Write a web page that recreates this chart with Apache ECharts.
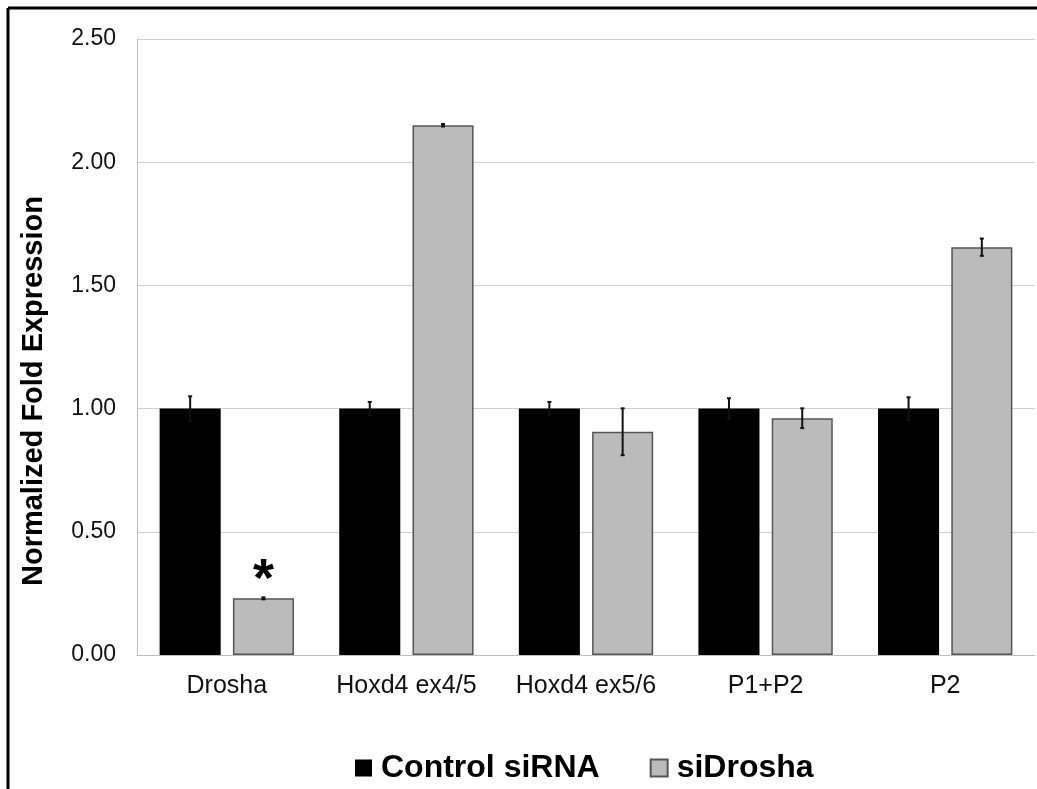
<!DOCTYPE html>
<html>
<head>
<meta charset="utf-8">
<style>
html,body{margin:0;padding:0;background:#fff;}
#chart{width:1037px;height:789px;}
</style>
<script src="https://cdn.jsdelivr.net/npm/echarts@6/dist/echarts.min.js"></script>
</head>
<body>
<div id="chart"></div>
<script>
var categories = ['Drosha', 'Hoxd4 ex4/5', 'Hoxd4 ex5/6', 'P1+P2', 'P2'];
var seriesNames = ['Control siRNA', 'siDrosha'];
var controlValues = [1.00, 1.00, 1.00, 1.00, 1.00];
var controlErrors = [0.05, 0.027, 0.027, 0.042, 0.046];
var siDroshaValues = [0.23, 2.15, 0.906, 0.961, 1.655];
var siDroshaErrors = [0.004, 0.005, 0.095, 0.04, 0.035];
var significance = ['*', '', '', '', ''];
var yTicks = [0, 0.5, 1.0, 1.5, 2.0, 2.5];

var BAR_W = 0.34, BAR_GAP = 0.2;

function errData(vals, errs) {
  return vals.map(function (v, i) { return [i, v, errs[i]]; });
}
function makeErrRender(sign) {
  return function (params, api) {
    var idx = api.value(0), v = api.value(1), e = api.value(2);
    var band = api.size([1, 0])[0];
    var bw = band * BAR_W;
    var off = sign * (bw + bw * BAR_GAP) / 2;
    var hi = api.coord([idx, v + e]);
    var lo = api.coord([idx, v - e]);
    var x = hi[0] + off;
    var cap = 2;
    var st = { stroke: '#111', lineWidth: 2 };
    return {
      type: 'group',
      children: [
        { type: 'line', shape: { x1: x, y1: hi[1], x2: x, y2: lo[1] }, style: st },
        { type: 'line', shape: { x1: x - cap, y1: hi[1], x2: x + cap, y2: hi[1] }, style: st },
        { type: 'line', shape: { x1: x - cap, y1: lo[1], x2: x + cap, y2: lo[1] }, style: st }
      ]
    };
  };
}

var greyData = siDroshaValues.map(function (v, i) {
  if (!significance[i]) return v;
  return {
    value: v,
    label: {
      show: true, position: 'top', distance: 2,
      formatter: significance[i],
      fontSize: 54, fontWeight: 'bold', color: '#000',
      fontFamily: 'Liberation Sans', lineHeight: 54, padding: [0, 0, -12, 0]
    }
  };
});

var chart = echarts.init(document.getElementById('chart'), null, { renderer: 'canvas' });
chart.setOption({
  animation: false,
  backgroundColor: '#fff',
  textStyle: { fontFamily: 'Liberation Sans, Arial, sans-serif' },
  grid: { left: 137, right: 2, top: 39, bottom: 134, containLabel: false },
  graphic: [
    { type: 'line', shape: { x1: 8, y1: 8, x2: 8, y2: 789 }, style: { stroke: '#000', lineWidth: 3 } },
    { type: 'line', shape: { x1: 8, y1: 8, x2: 1037, y2: 8 }, style: { stroke: '#000', lineWidth: 3 } },
    {
      type: 'text', x: 34, y: 391, rotation: Math.PI / 2,
      style: {
        text: 'Normalized Fold Expression', fill: '#000',
        font: 'bold 29px "Liberation Sans", Arial, sans-serif',
        align: 'center', verticalAlign: 'middle'
      }
    }
  ],
  legend: {
    bottom: 0, left: 350,
    itemWidth: 17, itemHeight: 17, itemGap: 50,
    icon: 'rect',
    data: seriesNames,
    textStyle: { fontSize: 32, fontWeight: 'bold', color: '#000', fontFamily: 'Liberation Sans', padding: [0, 0, 0, 4] }
  },
  xAxis: {
    type: 'category',
    data: categories,
    axisLine: { show: true, lineStyle: { color: '#BFBFBF', width: 1 } },
    axisTick: { show: false },
    axisLabel: { interval: 0, fontSize: 25, color: '#111', margin: 19, fontFamily: 'Liberation Sans' }
  },
  yAxis: {
    type: 'value',
    min: yTicks[0], max: yTicks[yTicks.length - 1], interval: 0.5,
    axisLine: { show: true, lineStyle: { color: '#BFBFBF', width: 1 } },
    axisTick: { show: false },
    splitLine: { lineStyle: { color: '#D0D0D0', width: 1 } },
    axisLabel: {
      fontSize: 23, color: '#111', margin: 21, fontFamily: 'Liberation Sans',
      formatter: function (v) { return v.toFixed(2); }
    }
  },
  series: [
    {
      name: seriesNames[0], type: 'bar', data: controlValues,
      barWidth: (BAR_W * 100) + '%', barGap: (BAR_GAP * 100) + '%',
      itemStyle: { color: '#000000', borderColor: '#000', borderWidth: 0 }
    },
    {
      name: seriesNames[1], type: 'bar', data: greyData,
      barWidth: (BAR_W * 100) + '%', barGap: (BAR_GAP * 100) + '%',
      itemStyle: { color: '#BBBBBB', borderColor: '#555555', borderWidth: 1.5 }
    },
    {
      type: 'custom', name: 'errCtrl', renderItem: makeErrRender(-1),
      data: errData(controlValues, controlErrors), z: 10,
      encode: { x: 0, y: 1 }, silent: true
    },
    {
      type: 'custom', name: 'errSi', renderItem: makeErrRender(1),
      data: errData(siDroshaValues, siDroshaErrors), z: 10,
      encode: { x: 0, y: 1 }, silent: true
    }
  ]
});
</script>
</body>
</html>
